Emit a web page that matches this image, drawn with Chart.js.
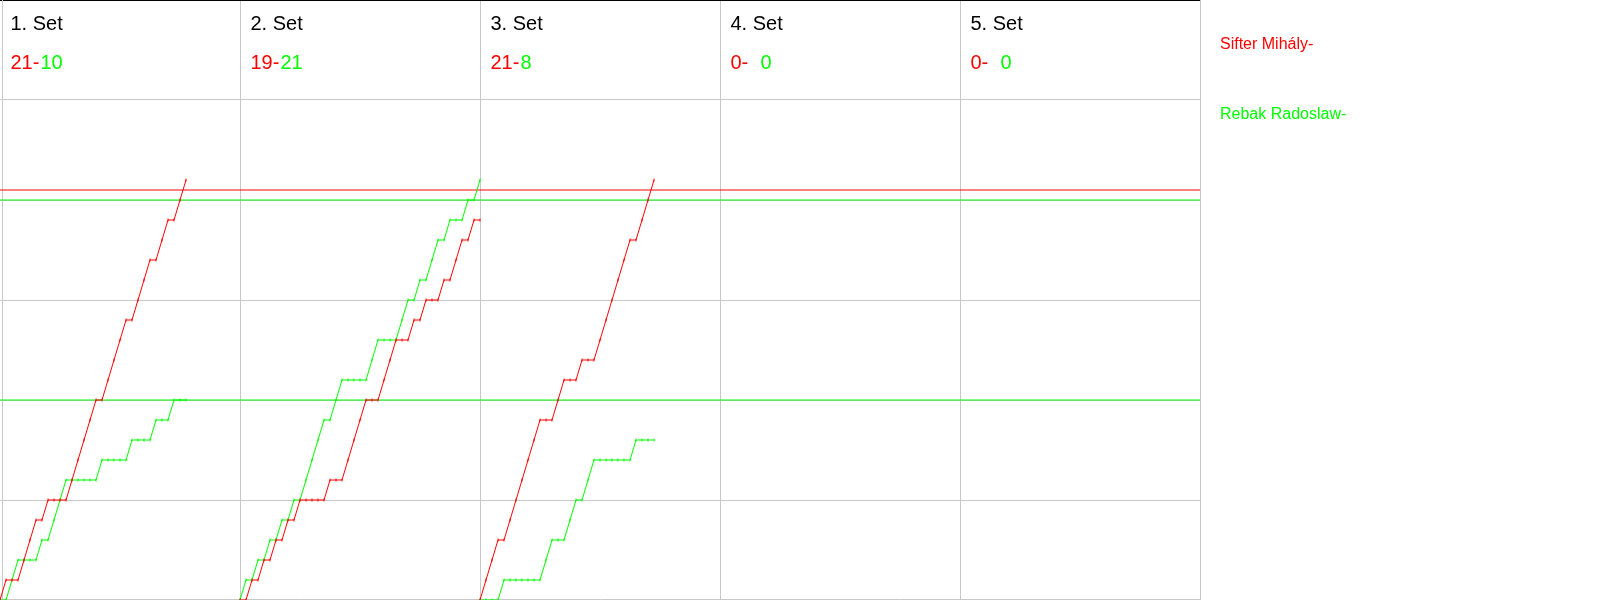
<!DOCTYPE html>
<html><head><meta charset="utf-8">
<script src="https://cdn.jsdelivr.net/npm/chart.js@4"></script>
<style>html,body{margin:0;padding:0;background:#fff;overflow:hidden}#wrap{width:1600px;height:600px;position:relative}</style>
</head><body><div id="wrap"><canvas id="c" width="1600" height="600"></canvas></div>
<script>
// ---- data ----
const setLabels = ["1. Set", "2. Set", "3. Set", "4. Set", "5. Set"];
const redSetScores = [21, 19, 21, 0, 0];
const greenSetScores = [10, 21, 8, 0, 0];
// rally-by-rally winners per set (R = red player, G = green player)
const set1Rallies = "RGGRRRGRGGGRRRRRGRRRRGRRRGRRGRR";
const set2Rallies = "GRGRGRGRGRGGGGRGGRRRRGGRRRGGRGRGGRGRRGRG";
const set3Rallies = "RRRGRRRRRRGGRRGGRGGRRRRRRGRRR";
const set4Rallies = "";
const set5Rallies = "";
const rallyWinners = [set1Rallies, set2Rallies, set3Rallies, set4Rallies, set5Rallies];
const redPlayer = "Sifter Mihály";
const greenPlayer = "Rebak Radoslaw";
const redRefLines = [20.5];
const greenRefLines = [20, 10];
const ralliesPerSet = 40;
const maxScore = 30;

const RED = '#ff0000', GREEN = '#00ff00', GRID = '#c8c8c8';

function buildSeries(who) {
  const pts = [];
  rallyWinners.forEach((seq, s) => {
    if (!seq.length) return;
    const off = s * ralliesPerSet;
    let score = 0;
    pts.push({x: off, y: 0});
    for (let i = 0; i < seq.length; i++) {
      if (seq[i] === who) score++;
      pts.push({x: off + i + 1, y: score});
    }
    pts.push({x: off + seq.length + 0.5, y: null});
  });
  return pts;
}
const totalX = ralliesPerSet * setLabels.length;
function refLine(v, color) {
  return {data: [{x: 0, y: v}, {x: totalX, y: v}], borderColor: color, borderWidth: 1,
          pointRadius: 0, order: 5};
}
const datasets = [
  ...redRefLines.map(v => refLine(v, RED)),
  ...greenRefLines.map(v => refLine(v, GREEN)),
  {data: buildSeries('G'), borderColor: GREEN, borderWidth: 1, pointStyle: 'line', rotation: 90,
   pointRadius: 1.5, pointBorderColor: GREEN, pointBorderWidth: 1, spanGaps: false, order: 2},
  {data: buildSeries('R'), borderColor: RED, borderWidth: 1, pointStyle: 'line', rotation: 90,
   pointRadius: 1.5, pointBorderColor: RED, pointBorderWidth: 1, spanGaps: false, order: 1}
];

const framePlugin = {
  id: 'frame',
  beforeDatasetsDraw(chart) {
    const {ctx, chartArea: a} = chart;
    ctx.save();
    ctx.strokeStyle = GRID;
    ctx.lineWidth = 1;
    ctx.beginPath();
    ctx.moveTo(a.left + 2.5, a.top);
    ctx.lineTo(a.left + 2.5, a.bottom);
    ctx.moveTo(a.left, a.bottom - 0.5);
    ctx.lineTo(a.right + 1, a.bottom - 0.5);
    ctx.stroke();
    ctx.restore();
  }
};

const headerPlugin = {
  id: 'hdr',
  afterDraw(chart) {
    const {ctx, scales: {x}} = chart;
    ctx.save();
    ctx.textBaseline = 'alphabetic';
    ctx.textAlign = 'left';
    ctx.font = '20px "Liberation Sans", Arial, sans-serif';
    setLabels.forEach((lab, i) => {
      const px = x.getPixelForValue(i * ralliesPerSet) + 10.5;
      ctx.fillStyle = '#000';
      ctx.fillText(lab, px, 30);
      ctx.fillStyle = RED;
      ctx.fillText(redSetScores[i] + '-', px, 69);
      ctx.fillStyle = GREEN;
      ctx.fillText(String(greenSetScores[i]), px + 30, 69);
    });
    ctx.font = '16px "Liberation Sans", Arial, sans-serif';
    ctx.fillStyle = RED;
    ctx.fillText(redPlayer + '-', x.right + 20, 49);
    ctx.fillStyle = GREEN;
    ctx.fillText(greenPlayer + '-', x.right + 20, 119);
    ctx.restore();
  }
};

new Chart(document.getElementById('c'), {
  type: 'line',
  data: {datasets},
  options: {
    responsive: false,
    animation: false,
    layout: {autoPadding: false, padding: {left: 0, right: 400, top: 0, bottom: 0}},
    elements: {line: {tension: 0}},
    plugins: {legend: {display: false}, tooltip: {enabled: false}},
    scales: {
      x: {type: 'linear', min: 0, max: totalX,
          ticks: {display: false, stepSize: ralliesPerSet},
          grid: {color: c => c.tick && c.tick.value === 0 ? 'rgba(0,0,0,0)' : GRID, drawTicks: false, lineWidth: 1},
          border: {display: false}},
      y: {min: 0, max: maxScore,
          ticks: {display: false, stepSize: 5},
          grid: {color: c => c.tick && c.tick.value === maxScore ? '#000' : GRID, drawTicks: false, lineWidth: 1},
          border: {display: false}}
    }
  },
  plugins: [framePlugin, headerPlugin]
});
</script></body></html>
